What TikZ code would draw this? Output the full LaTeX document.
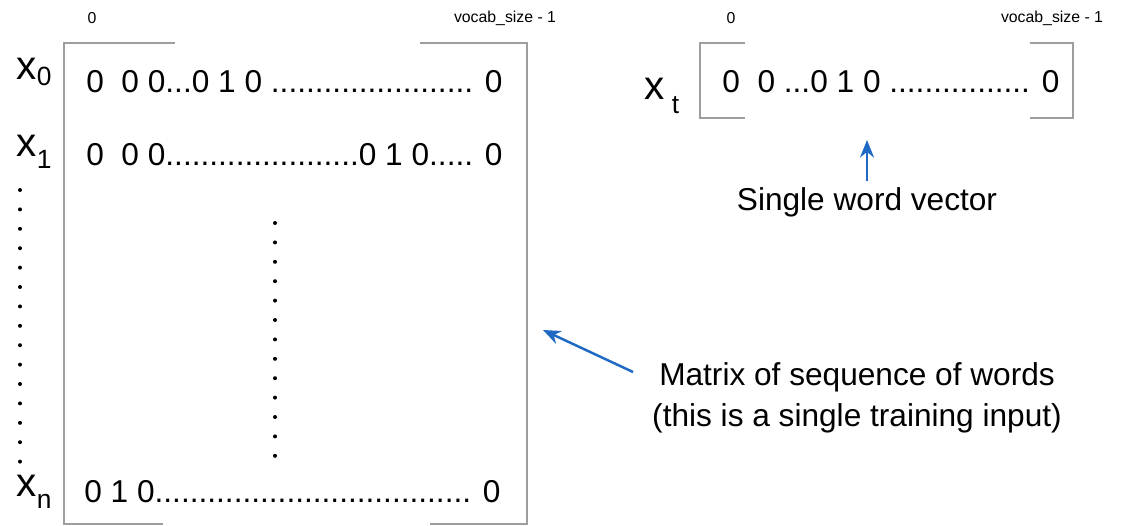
\documentclass[tikz,border=0pt]{standalone}
\usepackage{fontspec}
\setmainfont{Liberation Sans}
\usetikzlibrary{arrows.meta,positioning}
\definecolor{arrowblue}{RGB}{30,105,195}

\begin{document}
\begin{tikzpicture}[
  x=0.02cm, y=-0.02cm,
  brack/.style={draw=black!38, line width=1.2pt},
  row/.style={anchor=west, inner sep=0pt, font=\fontsize{18}{21}\selectfont},
  idx/.style={inner sep=0pt, font=\fontsize{9}{11}\selectfont},
  var/.style={inner sep=0pt, font=\fontsize{23}{25}\selectfont},
  note/.style={inner sep=0pt, align=center, font=\fontsize{18}{23}\selectfont},
  arrow/.style={-{Stealth[length=10pt,width=8pt]}, line width=1.4pt, arrowblue}
]
\useasboundingbox (0,0) rectangle (1124,525);

% matrix of words
\draw[brack] (175,43) -- (64,43) -- (64,524) -- (163,524);
\draw[brack] (420,43) -- (527,43) -- (527,524) -- (430,524);
\node[idx] (m0) at (92,18) {0};
\node[idx] (mv) at (505,18) {vocab\_size - 1};

\node[var] (x0) at (34,72) {x\raisebox{-0.15em}{\fontsize{15}{17}\selectfont 0}};
\node[var] (x1) at (34,152) {x\raisebox{-0.3em}{\fontsize{15}{17}\selectfont 1}};
\node[var] (xn) at (34,492) {x\raisebox{-0.3em}{\fontsize{15}{17}\selectfont n}};

\node[row] (r0) at (86,82) {0\ \ 0 0...0 1 0 ....................... 0};
\node[row] (r1) at (86,155) {0\ \ 0 0......................0 1 0..... 0};
\node[row] (rn) at (84,492) {0 1 0.................................... 0};

% vertical dots
\foreach \i in {0,...,14} \fill (20,190+19.4*\i) circle (2);
\foreach \i in {0,...,12} \fill (275,223+19.4*\i) circle (2);

% single word vector
\draw[brack] (745,43) -- (700,43) -- (700,118) -- (745,118);
\draw[brack] (1030,43) -- (1073,43) -- (1073,118) -- (1030,118);
\node[idx] (v0) at (731,18) {0};
\node[idx] (vv) at (1052,18) {vocab\_size - 1};
\node[var] (xt) at (662,96) {x\raisebox{-0.35em}{\,\fontsize{15}{17}\selectfont t}};
\node[row] (vec) at (722,82) {0\ \ 0 ...0 1 0 ................ 0};

\node[note] (single) at (867,202) {Single word vector};
\draw[arrow] (single.north) ++(0,-6) coordinate (s0) -- (867,140);

\node[note] (matrix) at (857,398) {Matrix of sequence of words\\(this is a single training input)};
\coordinate (mtip) at (543,330);
\draw[arrow] (633,372) -- (mtip);
\end{tikzpicture}
\end{document}
